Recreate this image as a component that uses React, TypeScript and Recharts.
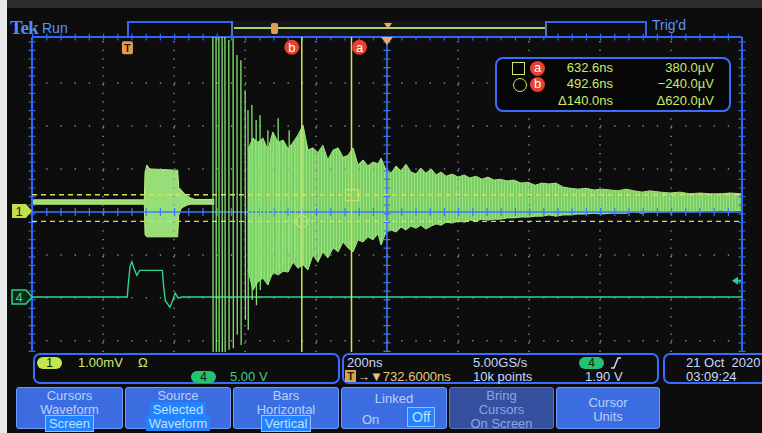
import React from "react";
import { ComposedChart, Area, Line, XAxis, YAxis, ReferenceLine, ReferenceDot } from "recharts";

// horizontal: 200 ns/div, screen centre sits 732.6 ns after the trigger
const TIME_PER_DIV = 200;
const CENTER_TIME = 732.6;
const X_MIN = CENTER_TIME - 5 * TIME_PER_DIV;
const X_MAX = CENTER_TIME + 5 * TIME_PER_DIV;
// vertical axis in divisions from the centre line (lower part is under the readouts)
const Y_MIN = -3.26;
const Y_MAX = 4.07;

const CH1_SCALE = 1.0; // mV/div
const CH1_POS = 0.02; // div
const CH4_SCALE = 5.0; // V/div
const CH4_POS = -1.98; // div
const TRIG_LEVEL = 1.9; // V

const CURSOR_A_T = 632.6; // ns
const CURSOR_B_T = 492.6;
const CURSOR_A_V = 0.38; // mV
const CURSOR_B_V = -0.24;

// ch1 quiet baseline and the short first burst (ns / mV envelope)
const ch1QuietTime = [-267.4, 49, 51, 56, 64, 140, 143, 146, 152, 160, 170, 180, 192, 246];
const ch1QuietHigh = [0.26, 0.26, 0.9, 1.07, 0.98, 0.95, 0.95, 0.55, 0.5, 0.42, 0.35, 0.3, 0.27, 0.27];
const ch1QuietLow = [0.16, 0.16, -0.55, -0.6, -0.6, -0.6, -0.6, -0.1, 0.05, 0.1, 0.14, 0.16, 0.16, 0.16];

// big spikes right after the burst arrives (peak / trough per spike)
const spikeTime = [242, 251, 259, 268, 276, 287, 299, 310, 321, 333, 341, 352, 364, 375, 386, 397, 411, 426, 440, 457, 474];
const spikeHigh = [4.5, 4.5, 4.5, 4.5, 4.5, 3.98, 4.02, 3.63, 3.51, 2.81, 2.35, 2.47, 2.12, 2.23, 1.53, 1.88, 1.42, 2.16, 1.65, 1.88, 1.53];
const spikeLow = [-3.6, -3.6, -3.6, -3.6, -3.6, -3.23, -3.19, -2.88, -3.12, -2.53, -2.77, -2.07, -2.19, -1.84, -1.6, -1.72, -1.49, -1.37, -1.26, -1.19, -1.09];

// decaying ringing, envelope (ns / mV)
const ringTime = [341, 355, 369, 383, 397, 411, 426, 440, 454, 468, 482, 496, 510, 524, 538, 552, 566, 581, 595, 609, 623, 637, 651, 665, 679, 693, 707, 716, 730, 744, 758, 772, 786, 800, 814, 828, 842, 857, 871, 885, 899, 916, 933, 950, 966, 983, 1000, 1017, 1034, 1051, 1071, 1090, 1110, 1130, 1150, 1169, 1189, 1209, 1228, 1248, 1271, 1293, 1316, 1338, 1361, 1383, 1406, 1428, 1451, 1473, 1502, 1530, 1558, 1586, 1614, 1642, 1671, 1699, 1733];
const ringHigh = [1.42, 1.7, 1.6, 1.7, 1.42, 1.84, 1.6, 1.65, 1.45, 1.6, 1.77, 2.0, 1.42, 1.47, 1.36, 1.53, 1.19, 1.42, 1.47, 1.25, 1.3, 1.47, 1.07, 1.19, 1.05, 1.14, 1.1, 1.23, 0.95, 0.88, 1.05, 0.93, 1.09, 0.91, 0.86, 1.0, 0.88, 0.98, 0.84, 0.91, 0.81, 0.86, 0.79, 0.84, 0.77, 0.81, 0.74, 0.79, 0.72, 0.74, 0.7, 0.72, 0.65, 0.67, 0.6, 0.65, 0.63, 0.65, 0.56, 0.53, 0.51, 0.53, 0.49, 0.51, 0.49, 0.47, 0.51, 0.47, 0.44, 0.47, 0.44, 0.42, 0.44, 0.4, 0.42, 0.4, 0.4, 0.42, 0.4];
const ringLow = [-1.37, -1.84, -1.65, -1.56, -1.72, -1.42, -1.49, -1.4, -1.42, -1.19, -1.33, -1.25, -1.37, -1.02, -1.19, -0.95, -1.09, -0.86, -0.95, -0.72, -0.86, -0.95, -0.67, -0.72, -0.6, -0.67, -0.53, -0.79, -0.49, -0.44, -0.49, -0.37, -0.44, -0.35, -0.4, -0.33, -0.42, -0.35, -0.3, -0.33, -0.26, -0.28, -0.23, -0.26, -0.21, -0.23, -0.19, -0.21, -0.19, -0.19, -0.16, -0.16, -0.14, -0.14, -0.12, -0.12, -0.09, -0.12, -0.09, -0.09, -0.07, -0.07, -0.05, -0.07, -0.05, -0.05, -0.05, -0.02, -0.05, -0.02, -0.02, -0.02, 0, -0.02, 0, 0, 0.02, 0, 0.02];

// ch4 trigger pulse (ns / V)
const ch4Time = [-267.4, 1, 4, 9, 14, 20, 28, 36, 60, 100, 103, 108, 121, 128, 136, 144, 156, 1732.6];
const ch4Volt = [0, 0, 1.6, 3.6, 4.1, 3.3, 2.5, 3.1, 3.1, 3.1, 1.4, -0.4, -1.2, -0.5, 0.45, -0.1, 0, 0];

const d1 = (mv: number) => mv / CH1_SCALE + CH1_POS;
const d4 = (v: number) => v / CH4_SCALE + CH4_POS;

const quietData = ch1QuietTime.map((t, i) => ({ t, range: [d1(ch1QuietLow[i]), d1(ch1QuietHigh[i])] }));
const ringData = ringTime.map((t, i) => ({ t, range: [d1(ringLow[i]), d1(ringHigh[i])] }));
// each spike is its own stroke: the null breaks the line between spikes
const spikeData = spikeTime.flatMap((t, i) => [
  { t, v: d1(spikeHigh[i]) },
  { t: t + 0.8, v: d1(spikeLow[i]) },
  { t: t + 1, v: null },
]);
const ch4Data = ch4Time.map((t, i) => ({ t, v: d4(ch4Volt[i]) }));

const gridTimes = [1, 2, 3, 4, 6, 7, 8, 9].map((k) => X_MIN + k * TIME_PER_DIV);
const gridDivs = [-3, -2, -1, 1, 2, 3];

const BLUE = "#2f66f5";
const DOT = "#8b8b9c";
const CURSOR = "#d2e25e";
const TXT = "#c9d8ff";
const YG = "#cce96e";
const FONT = "'Liberation Sans', Arial, sans-serif";

const at = (left: number, top: number, extra: React.CSSProperties = {}): React.CSSProperties => ({
  position: "absolute",
  left,
  top,
  whiteSpace: "nowrap",
  ...extra,
});

const ch1Marker = ({ cx, cy }: any) => (
  <g>
    <path d={`M${cx - 20},${cy - 7} L${cx - 6},${cy - 7} L${cx},${cy} L${cx - 6},${cy + 7} L${cx - 20},${cy + 7} Z`} fill="#bfe04c" />
    <text x={cx - 13} y={cy + 5} fontSize={13} fontFamily={FONT} fill="#1a2a08" textAnchor="middle">1</text>
  </g>
);
const ch4Marker = ({ cx, cy }: any) => (
  <g>
    <path d={`M${cx - 20},${cy - 7} L${cx - 6},${cy - 7} L${cx},${cy} L${cx - 6},${cy + 7} L${cx - 20},${cy + 7} Z`} fill="#0c2a1c" stroke="#2fcf86" strokeWidth={1.5} />
    <text x={cx - 13} y={cy + 5} fontSize={13} fontFamily={FONT} fill="#3ad890" textAnchor="middle">4</text>
  </g>
);
const trigArrow = ({ cx, cy }: any) => (
  <g>
    <path d={`M${cx - 10},${cy} L${cx - 4},${cy - 4} L${cx - 4},${cy + 4} Z`} fill="#30d088" />
    <line x1={cx - 5} y1={cy} x2={cx - 1} y2={cy} stroke="#30d088" strokeWidth={2} />
  </g>
);
const tMarker = ({ cx, cy }: any) => (
  <g>
    <rect x={cx - 5} y={cy - 6} width={11} height={13} rx={2} fill="#e39a52" />
    <text x={cx + 0.5} y={cy + 4.5} fontSize={11} fontWeight="bold" fontFamily={FONT} fill="#3a1c00" textAnchor="middle">T</text>
  </g>
);
const trigPos = ({ cx, cy }: any) => (
  <path d={`M${cx - 6},${cy} L${cx + 6},${cy} L${cx},${cy + 8} Z`} fill="#f2a865" />
);
const cursorLabel = (label: string, dx: number) => ({ cx, cy }: any) => (
  <g>
    <circle cx={cx + dx} cy={cy} r={7.5} fill="#e6422e" />
    <text x={cx + dx} y={cy + 4.5} fontSize={13} fontFamily={FONT} fill="#fff" textAnchor="middle">{label}</text>
  </g>
);
const squareMark = ({ cx, cy }: any) => (
  <rect x={cx - 6} y={cy - 5} width={13} height={11} fill="none" stroke={CURSOR} strokeWidth={1.2} />
);
const circleMark = ({ cx, cy }: any) => (
  <circle cx={cx} cy={cy} r={6} fill="none" stroke={CURSOR} strokeWidth={1.2} />
);

const Pill = ({ left, top, bg, label }: { left: number; top: number; bg: string; label: string }) => (
  <div style={at(left, top, { width: 25, height: 12, borderRadius: 7, background: bg, color: "#10200a", fontSize: 12, lineHeight: "12px", textAlign: "center" })}>{label}</div>
);

const hl: React.CSSProperties = { background: "#2383ff", border: "1px solid #8fc2ff", padding: "0 3px", color: "#bfe0ff" };

const Button = ({ left, width, dim, children }: { left: number; width: number; dim?: boolean; children: React.ReactNode }) => (
  <div
    style={at(left, 387, {
      width,
      height: 42,
      boxSizing: "border-box",
      background: dim ? "#34509e" : "#3c6de0",
      border: "1px solid " + (dim ? "#5a74c0" : "#6c98ff"),
      borderRadius: 3,
      color: dim ? "#8ea6e0" : "#b9d0ff",
      fontSize: 13,
      textAlign: "center",
      lineHeight: "14px",
      paddingTop: 1,
    })}
  >
    {children}
  </div>
);

export default function App() {
  return (
    <div style={{ position: "fixed", left: 0, top: 0, width: 762, height: 433, overflow: "hidden", background: "#0d0d0d", fontFamily: FONT }}>
      <div style={at(0, 0, { width: 762, height: 8, background: "#2c2c2c" })} />
      <div style={at(0, 0, { width: 7, height: 433, background: "#e9e9e9" })} />

      <div style={at(0, 0)}>
        <ComposedChart width={762} height={433} margin={{ top: 37, right: 20, bottom: 81, left: 32 }}>
          <defs>
            <pattern id="ringTex" width={3} height={8} patternUnits="userSpaceOnUse">
              <rect width={3} height={8} fill="#80d868" />
              <rect width={1} height={8} fill="#a2ea86" />
            </pattern>
          </defs>
          <XAxis type="number" dataKey="t" domain={[X_MIN, X_MAX]} allowDataOverflow hide />
          <YAxis type="number" domain={[Y_MIN, Y_MAX]} allowDataOverflow hide />

          {gridTimes.map((t) => (
            <ReferenceLine key={"gx" + t} x={t} stroke={DOT} strokeWidth={1.5} strokeDasharray="1.3 7.3" />
          ))}
          {gridDivs.map((d) => (
            <ReferenceLine key={"gy" + d} y={d} stroke={DOT} strokeWidth={1.5} strokeDasharray="1.3 12.9" />
          ))}
          <ReferenceLine x={CENTER_TIME} stroke="#3c78ff" strokeWidth={1.5} />
          <ReferenceLine x={CENTER_TIME} stroke="#3c78ff" strokeWidth={7} strokeDasharray="1.2 7.4" />
          <ReferenceLine y={0} stroke="#3c78ff" strokeWidth={1.5} />
          <ReferenceLine y={0} stroke="#3c78ff" strokeWidth={8} strokeDasharray="1.2 13" />
          <ReferenceLine x={X_MIN} stroke={BLUE} strokeWidth={2} />
          <ReferenceLine x={X_MIN} stroke={BLUE} strokeWidth={7} strokeDasharray="1.2 7.4" />
          <ReferenceLine x={X_MAX} stroke={BLUE} strokeWidth={2} />
          <ReferenceLine x={X_MAX} stroke={BLUE} strokeWidth={7} strokeDasharray="1.2 7.4" />
          <ReferenceLine y={Y_MAX} stroke={BLUE} strokeWidth={2} />
          <ReferenceLine y={Y_MAX} stroke={BLUE} strokeWidth={7} strokeDasharray="1.2 13" />

          <Line data={ch4Data} dataKey="v" type="linear" stroke="#2fd68c" strokeWidth={1.4} dot={false} isAnimationActive={false} />
          <Area data={quietData} dataKey="range" type="linear" stroke="#c3ec78" strokeWidth={1} fill="#97dd78" fillOpacity={1} isAnimationActive={false} />
          <Area data={ringData} dataKey="range" type="linear" stroke="#9fe87c" strokeWidth={1} fill="url(#ringTex)" fillOpacity={0.95} isAnimationActive={false} />
          <Line data={spikeData} dataKey="v" type="linear" stroke="#86e472" strokeWidth={1.3} dot={false} connectNulls={false} isAnimationActive={false} />

          <ReferenceLine y={d1(CURSOR_A_V)} stroke={CURSOR} strokeWidth={1.4} strokeDasharray="5 4" />
          <ReferenceLine y={d1(CURSOR_B_V)} stroke={CURSOR} strokeWidth={1.4} strokeDasharray="5 4" />
          <ReferenceLine x={CURSOR_A_T} stroke={CURSOR} strokeWidth={1.5} />
          <ReferenceLine x={CURSOR_B_T} stroke={CURSOR} strokeWidth={1.5} />
          <ReferenceDot x={CURSOR_A_T} y={d1(CURSOR_A_V)} ifOverflow="visible" shape={squareMark} />
          <ReferenceDot x={CURSOR_B_T} y={d1(CURSOR_B_V)} ifOverflow="visible" shape={circleMark} />
          <ReferenceDot x={CURSOR_A_T} y={Y_MAX - 0.24} ifOverflow="visible" shape={cursorLabel("a", 8)} />
          <ReferenceDot x={CURSOR_B_T} y={Y_MAX - 0.24} ifOverflow="visible" shape={cursorLabel("b", -10)} />
          <ReferenceDot x={0} y={Y_MAX - 0.24} ifOverflow="visible" shape={tMarker} />
          <ReferenceDot x={CENTER_TIME} y={Y_MAX} ifOverflow="visible" shape={trigPos} />
          <ReferenceDot x={X_MIN} y={d1(0)} ifOverflow="visible" shape={ch1Marker} />
          <ReferenceDot x={X_MIN} y={d4(0)} ifOverflow="visible" shape={ch4Marker} />
          <ReferenceDot x={X_MAX} y={d4(TRIG_LEVEL)} ifOverflow="visible" shape={trigArrow} />
        </ComposedChart>
      </div>

      {/* top bar */}
      <div style={at(10, 17, { fontFamily: "'Liberation Serif', serif", fontWeight: "bold", fontSize: 19, color: "#4d8bff", letterSpacing: -0.5 })}>Tek</div>
      <div style={at(42, 20, { fontSize: 14, color: "#5a93ff" })}>Run</div>
      <div style={at(127, 21, { width: 520, height: 15, boxSizing: "border-box", border: "2px solid " + BLUE, borderBottom: "none" })} />
      <div style={at(231, 21, { width: 316, height: 15, boxSizing: "border-box", borderLeft: "2px solid #5070c0", borderRight: "2px solid #5070c0", background: "#161616" })} />
      <div style={at(234, 27, { width: 311, height: 2, background: "#a8d262" })} />
      <div style={at(271, 23, { width: 7, height: 11, borderRadius: 2, background: "#e0a050" })} />
      <div style={at(384, 23, { width: 0, height: 0, borderLeft: "4px solid transparent", borderRight: "4px solid transparent", borderTop: "6px solid #f0a860" })} />
      <div style={at(652, 17, { fontSize: 14, color: "#5a93ff" })}>Trig'd</div>

      {/* cursor readout */}
      <div style={at(495, 57, { width: 236, height: 55, boxSizing: "border-box", border: "2px solid #3a6dff", borderRadius: 8, background: "#060606" })} />
      <div style={at(512, 62, { width: 11, height: 11, border: "1.5px solid " + YG })} />
      <div style={at(530, 61, { width: 15, height: 15, borderRadius: 8, background: "#e6422e", color: "#fff", fontSize: 13, lineHeight: "14px", textAlign: "center" })}>a</div>
      <div style={at(513, 78, { width: 12, height: 12, borderRadius: 7, border: "1.5px solid " + YG })} />
      <div style={at(530, 77, { width: 15, height: 15, borderRadius: 8, background: "#e6422e", color: "#fff", fontSize: 13, lineHeight: "14px", textAlign: "center" })}>b</div>
      {[
        ["632.6ns", "380.0µV", 60],
        ["492.6ns", "−240.0µV", 76],
        ["Δ140.0ns", "Δ620.0µV", 93],
      ].map(([a, b, y]) => (
        <React.Fragment key={a as string}>
          <div style={at(540, y as number, { width: 73, textAlign: "right", fontSize: 13, color: YG })}>{a}</div>
          <div style={at(630, y as number, { width: 84, textAlign: "right", fontSize: 13, color: YG })}>{b}</div>
        </React.Fragment>
      ))}

      {/* status readouts */}
      <div style={at(33, 353, { width: 307, height: 31, boxSizing: "border-box", border: "2px solid #3a6dff", borderRadius: 7 })} />
      <Pill left={37} top={357} bg="#c3e64e" label="1" />
      <div style={at(78, 355, { fontSize: 13, color: YG })}>1.00mV</div>
      <div style={at(138, 355, { fontSize: 13, color: YG })}>Ω</div>
      <Pill left={191} top={371} bg="#22c474" label="4" />
      <div style={at(230, 369, { fontSize: 13, color: "#42cc80" })}>5.00 V</div>

      <div style={at(342, 353, { width: 317, height: 31, boxSizing: "border-box", border: "2px solid #3a6dff", borderRadius: 7 })} />
      <div style={at(347, 355, { fontSize: 13, color: TXT })}>200ns</div>
      <div style={at(345, 370, { width: 11, height: 12, background: "#d9a244", color: "#2a1600", fontSize: 11, lineHeight: "12px", textAlign: "center", fontWeight: "bold" })}>T</div>
      <div style={at(357, 369, { fontSize: 13, color: "#e6c47e" })}>→▼732.6000ns</div>
      <div style={at(473, 355, { fontSize: 13, color: TXT })}>5.00GS/s</div>
      <div style={at(473, 369, { fontSize: 13, color: TXT })}>10k points</div>
      <Pill left={579} top={357} bg="#22c474" label="4" />
      <svg style={at(609, 356)} width={14} height={14}>
        <path d="M2,12 L5,12 L9,2 L12,2" fill="none" stroke={TXT} strokeWidth={1.5} />
      </svg>
      <div style={at(585, 369, { fontSize: 13, color: TXT })}>1.90 V</div>

      <div style={at(663, 353, { width: 110, height: 31, boxSizing: "border-box", border: "2px solid #3a6dff", borderRadius: 7 })} />
      <div style={at(686, 355, { fontSize: 13, color: TXT })}>21 Oct&nbsp;&nbsp;2020</div>
      <div style={at(686, 369, { fontSize: 13, color: TXT })}>03:09:24</div>

      {/* menu buttons */}
      <Button left={16} width={107}>
        <div>Cursors</div>
        <div>Waveform</div>
        <div><span style={hl}>Screen</span></div>
      </Button>
      <Button left={125} width={106}>
        <div>Source</div>
        <div><span style={{ ...hl, border: "none" }}>Selected</span></div>
        <div><span style={{ ...hl, border: "none" }}>Waveform</span></div>
      </Button>
      <Button left={233} width={106}>
        <div>Bars</div>
        <div>Horizontal</div>
        <div><span style={hl}>Vertical</span></div>
      </Button>
      <Button left={341} width={106}>
        <div style={{ marginTop: 3 }}>Linked</div>
        <div style={{ position: "relative", height: 22 }}>
          <span style={{ position: "absolute", left: 20, top: 7 }}>On</span>
          <span style={{ ...hl, position: "absolute", left: 65, top: 1, padding: "2px 4px", fontSize: 14 }}>Off</span>
        </div>
      </Button>
      <Button left={449} width={105} dim>
        <div>Bring</div>
        <div>Cursors</div>
        <div>On Screen</div>
      </Button>
      <Button left={556} width={104}>
        <div style={{ marginTop: 7 }}>Cursor</div>
        <div>Units</div>
      </Button>
    </div>
  );
}
